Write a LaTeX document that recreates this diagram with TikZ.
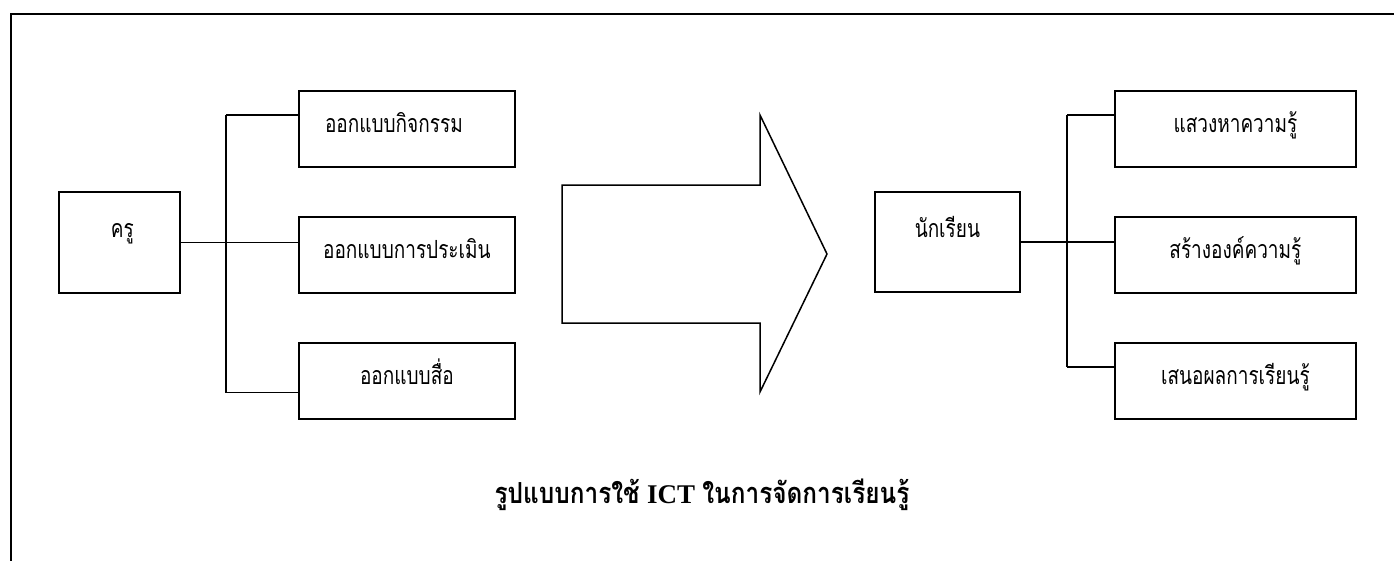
\documentclass[tikz,border=0pt]{standalone}
\usepackage{fontspec}
\setmainfont{Liberation Serif}
\newfontfamily\thaifont[Script=Thai, FakeStretch=0.76]{Loma}
\newfontfamily\thaititle[Script=Thai, FakeStretch=0.84]{Loma}
\usetikzlibrary{calc}
\begin{document}
\begin{tikzpicture}[x=1pt,y=-1pt,
  boxnode/.style={draw=black, line width=1.8pt, rectangle, minimum width=216pt, minimum height=76pt, anchor=north west, inner sep=0pt},
  rboxnode/.style={boxnode, minimum width=241pt},
  midbox/.style={draw=black, line width=1.8pt, rectangle, anchor=north west, inner sep=0pt},
  txt/.style={anchor=base, inner sep=0pt, font=\thaifont\fontsize{25}{29}\selectfont},
  conn/.style={draw=black, line width=1.5pt}]
\useasboundingbox (0,0) rectangle (1394,560);
\begin{scope}
\clip (0,0) rectangle (1394,560);
\draw[line width=2pt] (10.5,14.3) rectangle (1410,580);
\end{scope}
% left side
\node[midbox, minimum width=121pt, minimum height=101pt] (kru) at (58,191) {};
\node[txt] (krut) at ([xshift=3pt,yshift=-46pt]kru.north) {ครู};
\node[boxnode] (k1) at (298,90) {};
\node[boxnode] (k2) at (298,216) {};
\node[boxnode] (k3) at (298,342) {};
\node[txt] (k1t) at ([xshift=-13pt,yshift=-42pt]k1.north) {ออกแบบกิจกรรม};
\node[txt] (k2t) at ([yshift=-42pt]k2.north) {ออกแบบการประเมิน};
\node[txt] (k3t) at ([yshift=-42pt]k3.north) {ออกแบบสื่อ};
\coordinate (lb1) at (226,115);
\coordinate (lb3) at (226,392.5);
\draw[conn] (lb1) -- (lb3);
\draw[conn] (lb1) -- (lb1 -| k1.west);
\draw[conn] (lb3) -- (lb3 -| k3.west);
\draw[conn] (kru.east) -- (kru.east -| k2.west);
% arrow
\draw[line width=1.5pt, line join=miter] (562,185) -- (760,185) -- (760,115) -- (827,254) -- (760,392) -- (760,323) -- (562,323) -- cycle;
% right side
\node[midbox, minimum width=145pt, minimum height=100pt] (stu) at (874,191) {};
\node[txt] (stut) at ([yshift=-46pt]stu.north) {นักเรียน};
\node[rboxnode] (s1) at (1114,90) {};
\node[rboxnode] (s2) at (1114,216) {};
\node[rboxnode] (s3) at (1114,342) {};
\node[txt] (s1t) at ([yshift=-42pt]s1.north) {แสวงหาความรู้};
\node[txt] (s2t) at ([yshift=-42pt]s2.north) {สร้างองค์ความรู้};
\node[txt] (s3t) at ([yshift=-42pt]s3.north) {เสนอผลการเรียนรู้};
\coordinate (rb1) at (1067,115);
\coordinate (rb3) at (1067,367);
\draw[conn] (rb1) -- (rb3);
\draw[conn] (rb1) -- (rb1 -| s1.west);
\draw[conn] (rb3) -- (rb3 -| s3.west);
\draw[conn] (stu.east) -- (stu.east -| s2.west);
% title
\node[anchor=base, inner sep=0pt, font=\bfseries\fontsize{29}{34}\selectfont] (title) at (702,503) {{\thaititle รูปแบบการใช้} {\fontsize{27}{32}\selectfont ICT} {\thaititle ในการจัดการเรียนรู้}};
\end{tikzpicture}
\end{document}
